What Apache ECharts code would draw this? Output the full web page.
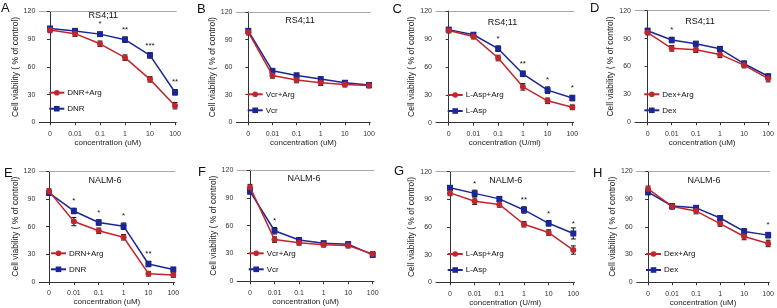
<!DOCTYPE html>
<html>
<head>
<meta charset="utf-8">
<script src="https://cdn.jsdelivr.net/npm/echarts@6/dist/echarts.min.js"></script>
<style>
html,body{margin:0;padding:0;background:#fff;}
#chart{width:777px;height:308px;}
</style>
</head>
<body>
<div id="chart"></div>
<script>
// ---- data ----
const xLabels = ['0', '0.01', '0.1', '1', '10', '100'];
const panelLetters = ['A', 'B', 'C', 'D', 'E', 'F', 'G', 'H'];
const cellLines = ['RS4;11', 'RS4;11', 'RS4;11', 'RS4;11', 'NALM-6', 'NALM-6', 'NALM-6', 'NALM-6'];
const argNames = ['DNR+Arg', 'Vcr+Arg', 'L-Asp+Arg', 'Dex+Arg', 'DRN+Arg', 'Vcr+Arg', 'L-Asp+Arg', 'Dex+Arg'];
const drugNames = ['DNR', 'Vcr', 'L-Asp', 'Dex', 'DNR', 'Vcr', 'L-Asp', 'Dex'];
const xNames = ['concentration (uM)', 'concentration (uM)', 'concentration (U/ml)', 'concentration (uM)',
                'concentration (uM)', 'concentration (uM)', 'concentration (U/ml)', 'concentration (uM)'];
const yName = 'Cell viability ( % of control)';

const argA = [100, 96, 85, 70, 46.5, 18];
const drugA = [101.5, 99, 95.5, 89.5, 72.5, 32.5];
const argErrA = [3, 3, 3, 3, 3, 3.5];
const drugErrA = [2.5, 2.5, 2, 3, 3, 3];
const starsA = ['', '', '*', '**', '***', '**'];

const argB = [98, 51, 46, 43, 41, 40];
const drugB = [99.5, 56, 51, 47, 43, 40.5];
const argErrB = [3, 3, 3, 3, 2.5, 2.5];
const drugErrB = [2.5, 2.5, 2.5, 2.5, 2.5, 2.5];
const starsB = ['', '', '', '', '', ''];

const argC = [99, 92.5, 69.5, 38.5, 23.5, 16.5];
const drugC = [100, 94.5, 79.5, 52.5, 35, 26.5];
const argErrC = [2.5, 2.5, 3, 3.5, 3, 2.5];
const drugErrC = [2, 2, 3, 3, 3.5, 3];
const starsC = ['', '', '*', '**', '*', '*'];

const argD = [96.5, 79.5, 78, 73, 61.5, 47];
const drugD = [98.5, 88.5, 84.5, 79, 63, 49.5];
const argErrD = [2.5, 3, 3, 3.5, 3, 3.5];
const drugErrD = [2.5, 3, 2.5, 2.5, 3, 2.5];
const starsD = ['', '*', '', '', '', ''];

const argE = [98.5, 65.5, 55.5, 48.5, 9, 7.5];
const drugE = [96.5, 77, 64.5, 60.5, 19.5, 13.5];
const argErrE = [2.5, 4.5, 3, 3, 2.5, 2.5];
const drugErrE = [2.5, 3, 3, 3.5, 3, 2.5];
const starsE = ['', '*', '*', '*', '**', ''];

const argF = [101.5, 45, 41.5, 39.5, 38.5, 29.5];
const drugF = [97, 54.5, 44.5, 41, 40, 28.5];
const argErrF = [3, 3, 2.5, 2.5, 2.5, 2.5];
const drugErrF = [3, 3.5, 2.5, 2.5, 2.5, 2.5];
const starsF = ['', '*', '', '', '', ''];

const argG = [97, 88, 84.5, 63, 54, 35];
const drugG = [102.5, 96.5, 90.5, 78.5, 64, 53];
const argErrG = [3, 3.5, 3, 3, 3, 4.5];
const drugErrG = [2.5, 3.5, 2.5, 3.5, 3, 6];
const starsG = ['', '*', '', '**', '*', '*'];

const argH = [101, 82, 77, 63.5, 49.5, 42];
const drugH = [97.5, 82.5, 80.5, 69.5, 55, 51];
const argErrH = [3, 3, 3, 3, 3.5, 3.5];
const drugErrH = [3, 2.5, 2.5, 2.5, 3, 3];
const starsH = ['', '', '', '', '', '*'];

const argVals = [argA, argB, argC, argD, argE, argF, argG, argH];
const drugVals = [drugA, drugB, drugC, drugD, drugE, drugF, drugG, drugH];
const argErrs = [argErrA, argErrB, argErrC, argErrD, argErrE, argErrF, argErrG, argErrH];
const drugErrs = [drugErrA, drugErrB, drugErrC, drugErrD, drugErrE, drugErrF, drugErrG, drugErrH];
const stars = [starsA, starsB, starsC, starsD, starsE, starsF, starsG, starsH];

// ---- layout (pixels): y-axis x, first category x, last category x, top (120), bottom (0)
const layout = [
  [39.3, 50, 175, 11.5, 122.3],
  [236.5, 248.3, 369, 12, 122.3],
  [436, 448.7, 572.3, 11, 122.7],
  [635, 647.7, 769, 10.7, 122.3],
  [39.3, 49, 173.3, 171.3, 282],
  [237.3, 250, 372.7, 170, 281.3],
  [436, 450, 573.3, 171.7, 282.3],
  [636.7, 648.3, 771, 171.3, 282.3]
];
const letterPos = [[1, 2], [197, 3], [392.5, 2.5], [590, 2], [4, 167], [198, 166], [394, 165], [593, 167]];
const titlePos = [[103.3, 11], [300, 15.7], [502.5, 18], [700, 16.7], [105, 175.7], [304, 174], [505.8, 175.7], [704, 175.7]];
const legendPos = [[48.3, 88.7], [246.7, 90.3], [446.7, 91], [643.3, 90.3], [50, 249.3], [247.7, 249.3], [446.7, 250], [645, 250]];

const RED = '#c0262b';
const BLUE = '#1c2796';
const FONT = 'Liberation Sans, Arial, sans-serif';

const grid = [], xAxis = [], yAxis = [], series = [], title = [], legend = [];
const catIdx = xLabels.map((_, i) => i);

function errItem(params, api) {
  const x = api.value(0), y = api.value(1), e = api.value(2);
  const t = api.coord([x, y + e]);
  const b = api.coord([x, y - e]);
  const hw = 2.5;
  const st = { stroke: '#111', lineWidth: 1 };
  return {
    type: 'group',
    children: [
      { type: 'line', shape: { x1: t[0], y1: t[1], x2: b[0], y2: b[1] }, style: st },
      { type: 'line', shape: { x1: t[0] - hw, y1: t[1], x2: t[0] + hw, y2: t[1] }, style: st },
      { type: 'line', shape: { x1: b[0] - hw, y1: b[1], x2: b[0] + hw, y2: b[1] }, style: st }
    ]
  };
}

for (let i = 0; i < 8; i++) {
  const [L, x0, x5, top, bottom] = layout[i];
  const step = (x5 - x0) / 5;
  const xMin = -(x0 - L) / step;
  const xMax = 5.05;
  const rightEdge = x5 + 0.05 * step;
  grid.push({ left: L, width: rightEdge - L, top: top, height: bottom - top });

  xAxis.push({
    type: 'value', gridIndex: i, min: xMin, max: xMax, position: 'bottom', offset: 4,
    name: xNames[i], nameLocation: 'middle', nameGap: 12,
    nameTextStyle: { fontSize: 8, color: '#222', fontFamily: FONT },
    axisLine: { show: true, lineStyle: { color: '#333', width: 1 } },
    axisTick: { show: true, length: 3, customValues: catIdx, lineStyle: { color: '#333' } },
    axisLabel: { customValues: catIdx, fontSize: 7, color: '#333', margin: 4, fontFamily: FONT,
                 formatter: v => xLabels[Math.round(v)] },
    splitLine: { show: false }
  });
  xAxis.push({
    type: 'value', gridIndex: i, min: xMin, max: xMax, position: 'top',
    axisLine: { show: true, lineStyle: { color: '#a8a8a8', width: 1.2 } },
    axisTick: { show: false }, axisLabel: { show: false }, splitLine: { show: false }
  });
  yAxis.push({
    type: 'value', gridIndex: i, min: 0, max: 120, interval: 30,
    name: yName, nameLocation: 'middle', nameGap: 19, nameRotate: 90,
    nameTextStyle: { fontSize: 8.5, color: '#222', fontFamily: FONT },
    axisLine: { show: true, lineStyle: { color: '#333', width: 1 } },
    axisTick: { show: true, length: 3, lineStyle: { color: '#333' } },
    axisLabel: { fontSize: 7, color: '#333', margin: 4, fontFamily: FONT },
    splitLine: { show: false }
  });

  title.push({ text: panelLetters[i], left: letterPos[i][0], top: letterPos[i][1], padding: 0,
    textStyle: { fontSize: 13, fontWeight: 'normal', color: '#111', fontFamily: FONT } });
  title.push({ text: cellLines[i], left: titlePos[i][0], top: titlePos[i][1], textAlign: 'center', padding: 0,
    textStyle: { fontSize: 9, fontWeight: 'normal', color: '#111', fontFamily: FONT } });

  legend.push({
    data: [argNames[i], drugNames[i]], orient: 'vertical',
    left: legendPos[i][0], top: legendPos[i][1], padding: 0,
    itemWidth: 15, itemHeight: 7, itemGap: 8, selectedMode: false,
    textStyle: { fontSize: 8, color: '#111', fontFamily: FONT, padding: [0, 0, 0, -2] }
  });

  const xa = i * 2;
  series.push({
    type: 'custom', xAxisIndex: xa, yAxisIndex: i, z: 1, silent: true,
    renderItem: errItem, data: argVals[i].map((v, k) => [k, v, argErrs[i][k]])
  });
  series.push({
    type: 'custom', xAxisIndex: xa, yAxisIndex: i, z: 1, silent: true,
    renderItem: errItem, data: drugVals[i].map((v, k) => [k, v, drugErrs[i][k]])
  });
  series.push({
    name: drugNames[i], type: 'line', xAxisIndex: xa, yAxisIndex: i, z: 3,
    symbol: 'rect', symbolSize: 6, color: BLUE,
    lineStyle: { color: BLUE, width: 1.5 }, itemStyle: { color: BLUE },
    data: drugVals[i].map((v, k) => [k, v]),
    label: { show: true, position: 'top', distance: 3, fontSize: 8, color: '#111', fontFamily: FONT,
             formatter: p => stars[i][p.dataIndex] }
  });
  series.push({
    name: argNames[i], type: 'line', xAxisIndex: xa, yAxisIndex: i, z: 4,
    symbol: 'circle', symbolSize: 6, color: RED,
    lineStyle: { color: RED, width: 1.5 }, itemStyle: { color: RED },
    data: argVals[i].map((v, k) => [k, v])
  });
}

const chart = echarts.init(document.getElementById('chart'), null, { renderer: 'canvas' });
chart.setOption({
  animation: false,
  backgroundColor: '#fff',
  textStyle: { fontFamily: FONT },
  title, legend, grid, xAxis, yAxis, series
});
</script>
</body>
</html>
